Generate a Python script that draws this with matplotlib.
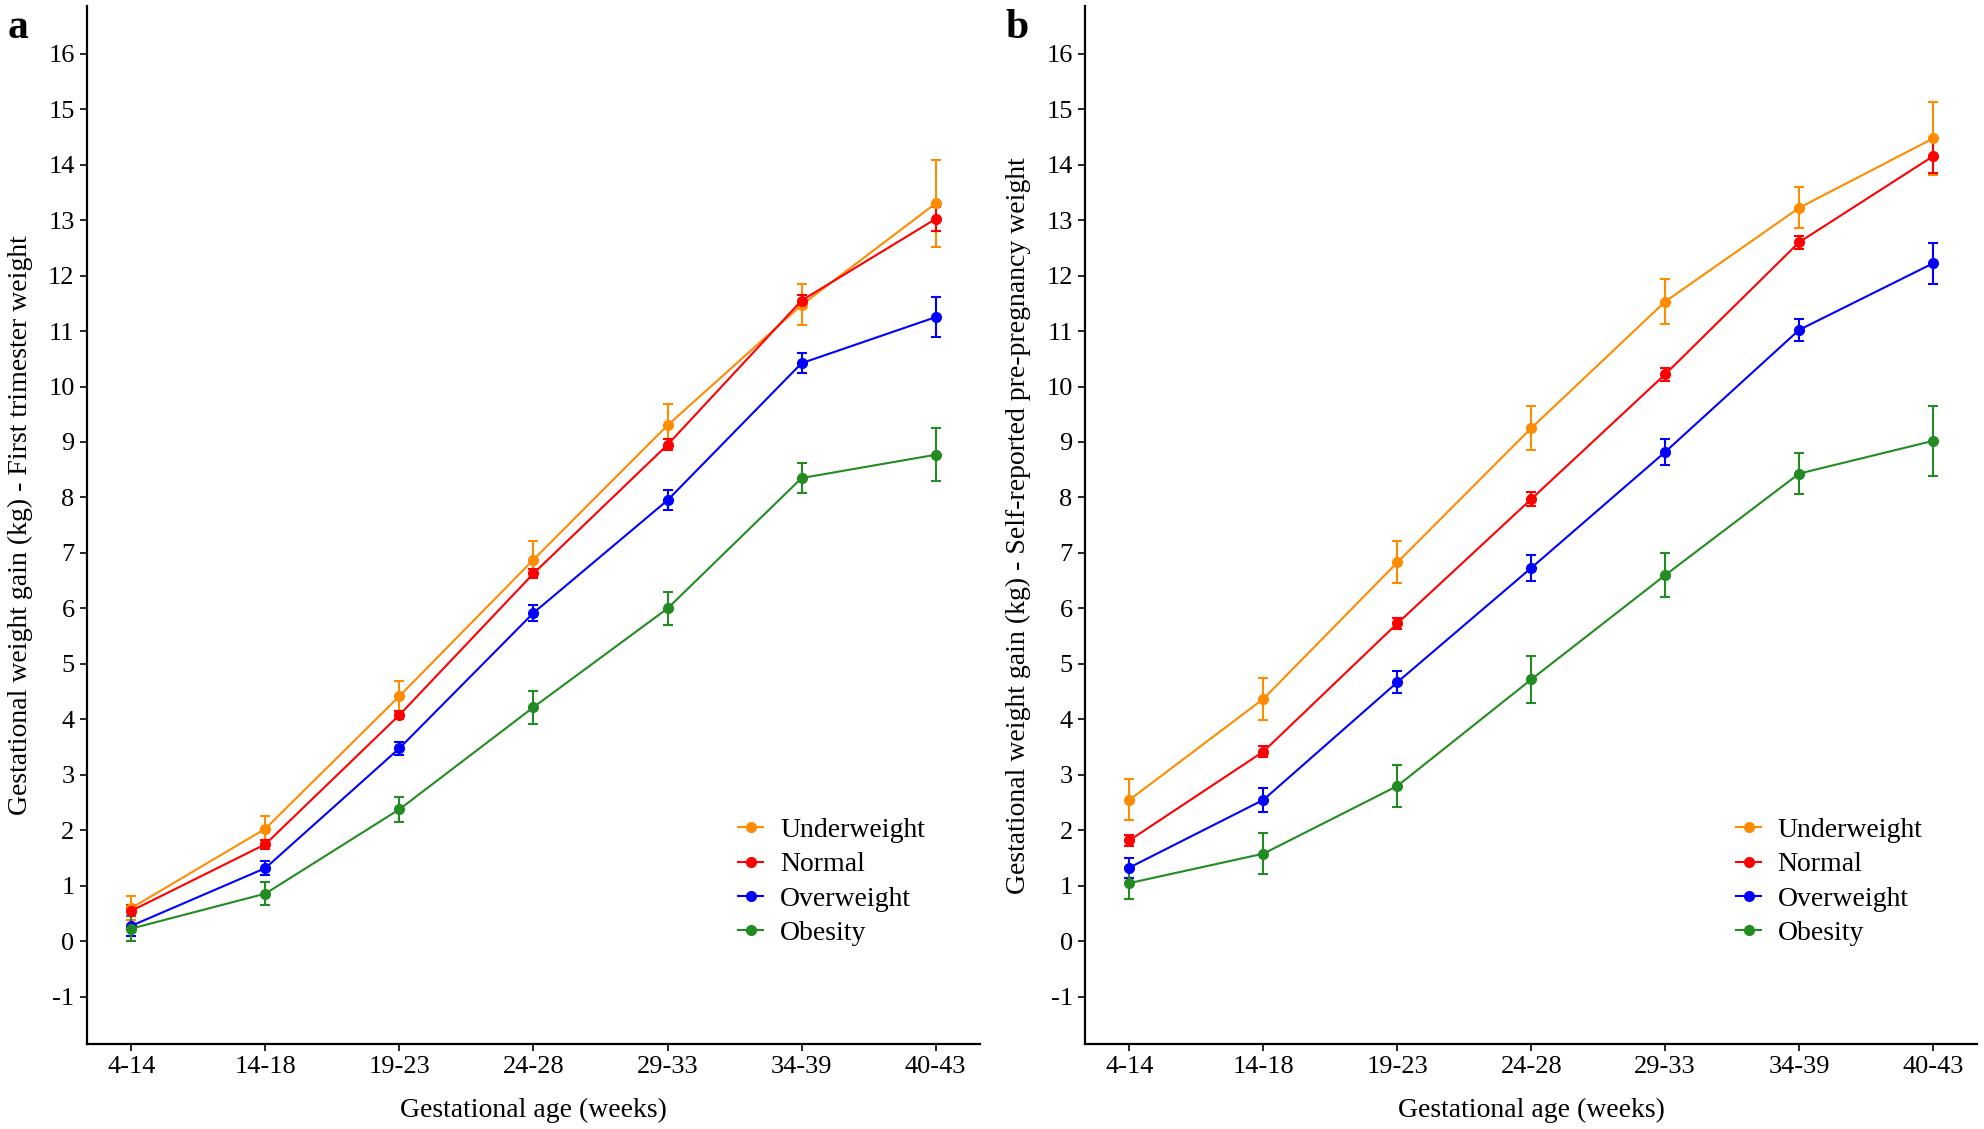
import matplotlib
matplotlib.use("Agg")
import matplotlib.pyplot as plt
from matplotlib.lines import Line2D

plt.rcParams['font.family'] = ['Liberation Serif', 'DejaVu Serif']
plt.rcParams['axes.unicode_minus'] = False

ages = ['4-14', '14-18', '19-23', '24-28', '29-33', '34-39', '40-43']
groups = ['Underweight', 'Normal', 'Overweight', 'Obesity']
colors = ['#FF8C00', '#FF0000', '#0000FF', '#228B22']

# panel a - first trimester weight
a_under = [0.60, 2.03, 4.42, 6.88, 9.30, 11.47, 13.30]
a_under_err = [0.22, 0.23, 0.28, 0.33, 0.38, 0.37, 0.78]
a_normal = [0.55, 1.75, 4.08, 6.63, 8.95, 11.55, 13.02]
a_normal_err = [0.10, 0.08, 0.08, 0.08, 0.10, 0.10, 0.22]
a_over = [0.28, 1.32, 3.48, 5.92, 7.95, 10.42, 11.25]
a_over_err = [0.18, 0.12, 0.12, 0.15, 0.18, 0.18, 0.36]
a_obes = [0.23, 0.86, 2.38, 4.22, 6.00, 8.35, 8.77]
a_obes_err = [0.22, 0.21, 0.23, 0.30, 0.30, 0.27, 0.48]

# panel b - self-reported pre-pregnancy weight
b_under = [2.55, 4.37, 6.83, 9.25, 11.53, 13.22, 14.47]
b_under_err = [0.37, 0.38, 0.38, 0.40, 0.40, 0.37, 0.65]
b_normal = [1.82, 3.42, 5.73, 7.97, 10.22, 12.60, 14.15]
b_normal_err = [0.10, 0.10, 0.10, 0.12, 0.12, 0.12, 0.30]
b_over = [1.33, 2.55, 4.67, 6.73, 8.82, 11.02, 12.22]
b_over_err = [0.18, 0.22, 0.20, 0.23, 0.23, 0.20, 0.37]
b_obes = [1.05, 1.58, 2.80, 4.72, 6.60, 8.43, 9.02]
b_obes_err = [0.28, 0.37, 0.37, 0.42, 0.40, 0.37, 0.63]

panel_a = [(a_under, a_under_err), (a_normal, a_normal_err), (a_over, a_over_err), (a_obes, a_obes_err)]
panel_b = [(b_under, b_under_err), (b_normal, b_normal_err), (b_over, b_over_err), (b_obes, b_obes_err)]

ylabels = ['Gestational weight gain (kg) - First trimester weight',
           'Gestational weight gain (kg) - Self-reported pre-pregnancy weight']

fig = plt.figure(figsize=(19.84, 11.29), dpi=100)
ax_a = fig.add_axes([0.0439, 0.0753, 0.450, 0.919])
ax_b = fig.add_axes([0.547, 0.0753, 0.4496, 0.919])

x = list(range(len(ages)))
for ax, panel, ylab in [(ax_a, panel_a, ylabels[0]), (ax_b, panel_b, ylabels[1])]:
    for (vals, errs), name, c in zip(panel, groups, colors):
        ax.errorbar(x, vals, yerr=errs, color=c, lw=1.5, marker='o', ms=7,
                    capsize=3.6, capthick=1.5, elinewidth=1.5)
    ax.set_xlim(-0.33, 6.33)
    ax.set_ylim(-1.85, 16.85)
    ax.set_xticks(x)
    ax.set_xticklabels(ages)
    ax.set_yticks(range(-1, 17))
    ax.tick_params(labelsize=19, length=5, width=1.2, pad=4, colors='black')
    for s in ['top', 'right']:
        ax.spines[s].set_visible(False)
    for s in ['left', 'bottom']:
        ax.spines[s].set_linewidth(1.6)
    ax.set_xlabel('Gestational age (weeks)', fontsize=20, labelpad=14)
    ax.set_ylabel(ylab, fontsize=20)
    ax.yaxis.set_label_coords(-0.061, 0.5)
    handles = [Line2D([], [], color=c, lw=1.5, marker='o', ms=7) for c in colors]
    ax.legend(handles, groups, loc='lower left', bbox_to_anchor=(0.714, 0.081), frameon=False,
              fontsize=20, handlelength=0.9, handletextpad=0.6, labelspacing=0.32,
              borderpad=0)

fig.text(0.004, 0.992, 'a', fontsize=30, fontweight='bold', va='top')
fig.text(0.507, 0.992, 'b', fontsize=30, fontweight='bold', va='top')

fig.savefig('out.png', dpi=100)
